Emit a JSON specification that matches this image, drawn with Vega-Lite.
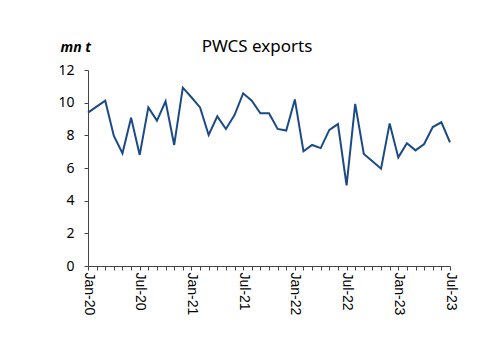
{
  "$schema": "https://vega.github.io/schema/vega-lite/v6.json",
  "width": 362,
  "height": 196,
  "autosize": {"type": "none"},
  "padding": {"left": 88, "top": 70, "right": 50, "bottom": 87},
  "background": "white",
  "title": {
    "text": "PWCS exports",
    "font": "Noto Sans",
    "fontSize": 17,
    "fontWeight": "normal",
    "color": "#000000",
    "anchor": "middle",
    "dx": -12,
    "dy": 31,
    "offset": 15
  },
  "data": {
    "values": [
      {"month": "Jan-20", "value": 9.39},
      {"month": "Feb-20", "value": 9.76},
      {"month": "Mar-20", "value": 10.12},
      {"month": "Apr-20", "value": 7.96},
      {"month": "May-20", "value": 6.9},
      {"month": "Jun-20", "value": 9.08},
      {"month": "Jul-20", "value": 6.8},
      {"month": "Aug-20", "value": 9.71},
      {"month": "Sep-20", "value": 8.9},
      {"month": "Oct-20", "value": 10.08},
      {"month": "Nov-20", "value": 7.41},
      {"month": "Dec-20", "value": 10.92},
      {"month": "Jan-21", "value": 10.33},
      {"month": "Feb-21", "value": 9.71},
      {"month": "Mar-21", "value": 8.02},
      {"month": "Apr-21", "value": 9.16},
      {"month": "May-21", "value": 8.39},
      {"month": "Jun-21", "value": 9.24},
      {"month": "Jul-21", "value": 10.57},
      {"month": "Aug-21", "value": 10.12},
      {"month": "Sep-21", "value": 9.35},
      {"month": "Oct-21", "value": 9.35},
      {"month": "Nov-21", "value": 8.39},
      {"month": "Dec-21", "value": 8.29},
      {"month": "Jan-22", "value": 10.2},
      {"month": "Feb-22", "value": 7.02},
      {"month": "Mar-22", "value": 7.41},
      {"month": "Apr-22", "value": 7.22},
      {"month": "May-22", "value": 8.33},
      {"month": "Jun-22", "value": 8.69},
      {"month": "Jul-22", "value": 4.94},
      {"month": "Aug-22", "value": 9.92},
      {"month": "Sep-22", "value": 6.86},
      {"month": "Oct-22", "value": 6.41},
      {"month": "Nov-22", "value": 5.96},
      {"month": "Dec-22", "value": 8.73},
      {"month": "Jan-23", "value": 6.65},
      {"month": "Feb-23", "value": 7.51},
      {"month": "Mar-23", "value": 7.08},
      {"month": "Apr-23", "value": 7.47},
      {"month": "May-23", "value": 8.51},
      {"month": "Jun-23", "value": 8.8},
      {"month": "Jul-23", "value": 7.57}
    ]
  },
  "mark": {"type": "line", "color": "#1b4a87", "strokeWidth": 2},
  "encoding": {
    "x": {
      "field": "month",
      "type": "ordinal",
      "sort": null,
      "scale": {"type": "point", "padding": 0},
      "axis": {
        "title": null,
        "grid": false,
        "domainColor": "#444444",
        "tickColor": "#444444",
        "tickSize": 4,
        "labelAngle": 90,
        "labelAlign": "left",
        "labelBaseline": "middle",
        "labelFont": "Liberation Sans",
        "labelFontSize": 14,
        "labelColor": "#000000",
        "labelPadding": 2,
        "labelExpr": "indexof(['Jan','Jul'], slice(datum.value,0,3)) >= 0 ? datum.value : ''",
        "labelOverlap": false
      }
    },
    "y": {
      "field": "value",
      "type": "quantitative",
      "scale": {"domain": [0, 12], "nice": false},
      "axis": {
        "values": [0, 2, 4, 6, 8, 10, 12],
        "grid": false,
        "domainColor": "#444444",
        "tickColor": "#444444",
        "tickSize": 4,
        "labelFont": "Noto Sans",
        "labelFontSize": 14,
        "labelColor": "#000000",
        "labelPadding": 10,
        "title": "mn t",
        "titleFont": "Noto Sans",
        "titleFontSize": 14,
        "titleFontStyle": "italic",
        "titleFontWeight": "bold",
        "titleAngle": 0,
        "titleAlign": "left",
        "titleBaseline": "alphabetic",
        "titleX": -28,
        "titleY": -19,
        "titleColor": "#000000"
      }
    }
  },
  "config": {"view": {"stroke": null}}
}
